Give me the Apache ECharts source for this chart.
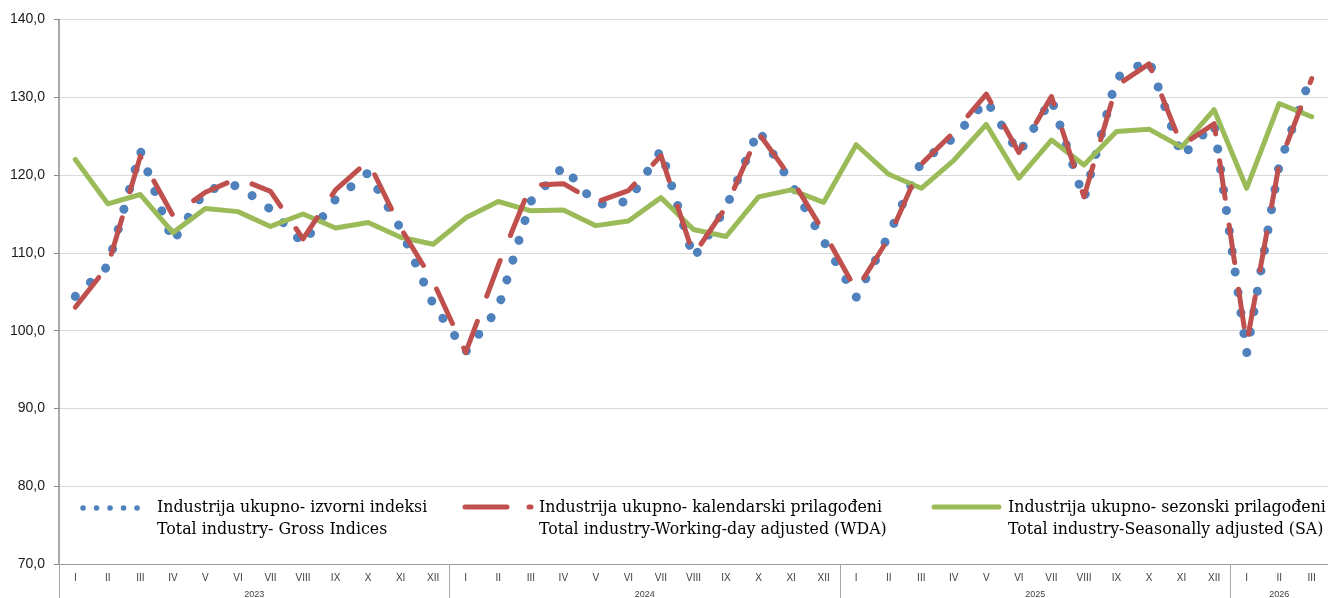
<!DOCTYPE html>
<html>
<head>
<meta charset="utf-8">
<script src="https://cdn.jsdelivr.net/npm/echarts@6/dist/echarts.min.js"></script>
<style>
  html, body { margin: 0; padding: 0; background: #fff; }
  #chart { width: 1328px; height: 598px; }
</style>
</head>
<body>
<div id="chart"></div>
<script>
// podaci / data
const years = ['2023', '2024', '2025', '2026'];
const monthsPerYear = [12, 12, 12, 3];
const romanMonths = ['I', 'II', 'III', 'IV', 'V', 'VI', 'VII', 'VIII', 'IX', 'X', 'XI', 'XII'];

const gross = [
  104.4, 108.3, 123.1, 111.4, 118.1, 118.7, 115.6, 111.2, 116.9, 120.3, 113.1, 103.4,
  97.3, 102.9, 116.6, 121.1, 116.2, 116.6, 123.2, 109.3, 115.8, 125.8, 118.9, 111.5,
  104.3, 112.3, 121.7, 124.8, 129.6, 122.8, 129.8, 116.9, 132.5, 134.8, 122.4, 126.6,
  97.1, 121.3, 133.0
];
const wda = [
  103.0, 108.3, 122.4, 114.8, 117.8, 119.6, 117.9, 111.8, 118.1, 121.8, 113.2, 106.3,
  97.2, 108.4, 118.7, 118.9, 116.5, 118.0, 122.5, 109.7, 115.9, 125.4, 119.6, 112.7,
  105.2, 111.9, 121.4, 125.5, 130.4, 122.9, 130.1, 117.2, 131.5, 134.3, 123.8, 126.6,
  98.3, 121.4, 132.4
];
const sa = [
  122.0, 116.3, 117.5, 112.6, 115.7, 115.3, 113.4, 115.0, 113.2, 113.9, 112.0, 111.1,
  114.5, 116.6, 115.4, 115.5, 113.5, 114.1, 117.1, 113.0, 112.1, 117.2, 118.1, 116.5,
  123.9, 120.1, 118.3, 121.9, 126.5, 119.6, 124.5, 121.3, 125.6, 125.9, 123.6, 128.4,
  118.3, 129.2, 127.5
];

const legendLines = [
  'Industrija ukupno- izvorni indeksi\nTotal industry- Gross Indices',
  'Industrija ukupno- kalendarski prilagođeni\nTotal industry-Working-day adjusted (WDA)',
  'Industrija ukupno- sezonski prilagođeni\nTotal industry-Seasonally adjusted (SA)'
];

// kategorije (godina|mjesec), granice i sredine godina
const categories = [];
const yearBounds = [0];
const yearCenters = [];
years.forEach((y, i) => {
  for (let m = 0; m < monthsPerYear[i]; m++) categories.push(y + '|' + romanMonths[m]);
  const start = yearBounds[yearBounds.length - 1];
  yearCenters.push(start + monthsPerYear[i] / 2);
  yearBounds.push(start + monthsPerYear[i]);
});

const BLUE = '#4F81BD', RED = '#C0504D', GREEN = '#9BBB59';
const legendFont = '15.8px "DejaVu Serif"';

const myChart = echarts.init(document.getElementById('chart'));
myChart.setOption({
  animation: false,
  grid: { left: 59, right: 0, top: 19.5, bottom: 34, outerBoundsMode: 'none' },
  xAxis: [
    {
      type: 'category',
      data: categories,
      boundaryGap: true,
      axisLine: { lineStyle: { color: '#9a9a9a', width: 1 } },
      axisTick: { interval: 0, length: 21, lineStyle: { color: '#a6a6a6' } },
      axisLabel: {
        interval: 0,
        margin: 9,
        fontSize: 10,
        color: '#404040',
        fontFamily: 'Liberation Sans',
        formatter: (v) => v.split('|')[1]
      },
      splitLine: { show: false }
    },
    {
      type: 'value',
      position: 'bottom',
      min: 0,
      max: categories.length,
      axisLine: { show: false },
      splitLine: { show: false },
      axisTick: { show: true, customValues: yearBounds, length: 34, lineStyle: { color: '#a6a6a6' } },
      axisLabel: {
        customValues: yearCenters,
        margin: 26.5,
        fontSize: 9,
        color: '#404040',
        fontFamily: 'Liberation Sans',
        formatter: (v) => years[yearCenters.indexOf(v)]
      }
    }
  ],
  yAxis: {
    type: 'value',
    min: 70,
    max: 140,
    interval: 10,
    axisLine: { show: true, lineStyle: { color: '#8c8c8c', width: 1.5 } },
    axisTick: { show: true, length: 5, lineStyle: { color: '#8c8c8c' } },
    axisLabel: {
      margin: 14,
      fontSize: 14,
      color: '#1a1a1a',
      fontFamily: 'Liberation Sans',
      formatter: (v) => v.toFixed(1).replace('.', ',')
    },
    splitLine: { lineStyle: { color: '#d9d9d9', width: 1 } }
  },
  series: [
    {
      name: 'gross',
      type: 'line',
      data: gross,
      symbol: 'none',
      z: 2,
      lineStyle: { color: BLUE, width: 9, type: [0.1, 20.6], cap: 'round', join: 'round' }
    },
    {
      name: 'sa',
      type: 'line',
      data: sa,
      symbol: 'none',
      z: 3,
      lineStyle: { color: GREEN, width: 5, cap: 'round', join: 'round' }
    },
    {
      name: 'wda',
      type: 'line',
      data: wda,
      symbol: 'none',
      z: 4,
      lineStyle: { color: RED, width: 5, type: [38, 27], cap: 'round', join: 'round' }
    }
  ],
  graphic: [
    { type: 'line', shape: { x1: 83, y1: 508, x2: 138, y2: 508 },
      style: { stroke: BLUE, lineWidth: 5.5, lineDash: [0.1, 13.4], lineCap: 'round' } },
    { type: 'text', x: 157, y: 497,
      style: { text: legendLines[0], font: legendFont, lineHeight: 22, fill: '#000' } },
    { type: 'line', shape: { x1: 465, y1: 507, x2: 531, y2: 507 },
      style: { stroke: RED, lineWidth: 5, lineDash: [42, 22], lineCap: 'round' } },
    { type: 'text', x: 539, y: 497,
      style: { text: legendLines[1], font: legendFont, lineHeight: 22, fill: '#000' } },
    { type: 'line', shape: { x1: 934, y1: 507, x2: 999, y2: 507 },
      style: { stroke: GREEN, lineWidth: 5, lineCap: 'round' } },
    { type: 'text', x: 1008, y: 497,
      style: { text: legendLines[2], font: legendFont, lineHeight: 22, fill: '#000' } }
  ]
});
window.onresize = () => myChart.resize();
</script>
</body>
</html>
